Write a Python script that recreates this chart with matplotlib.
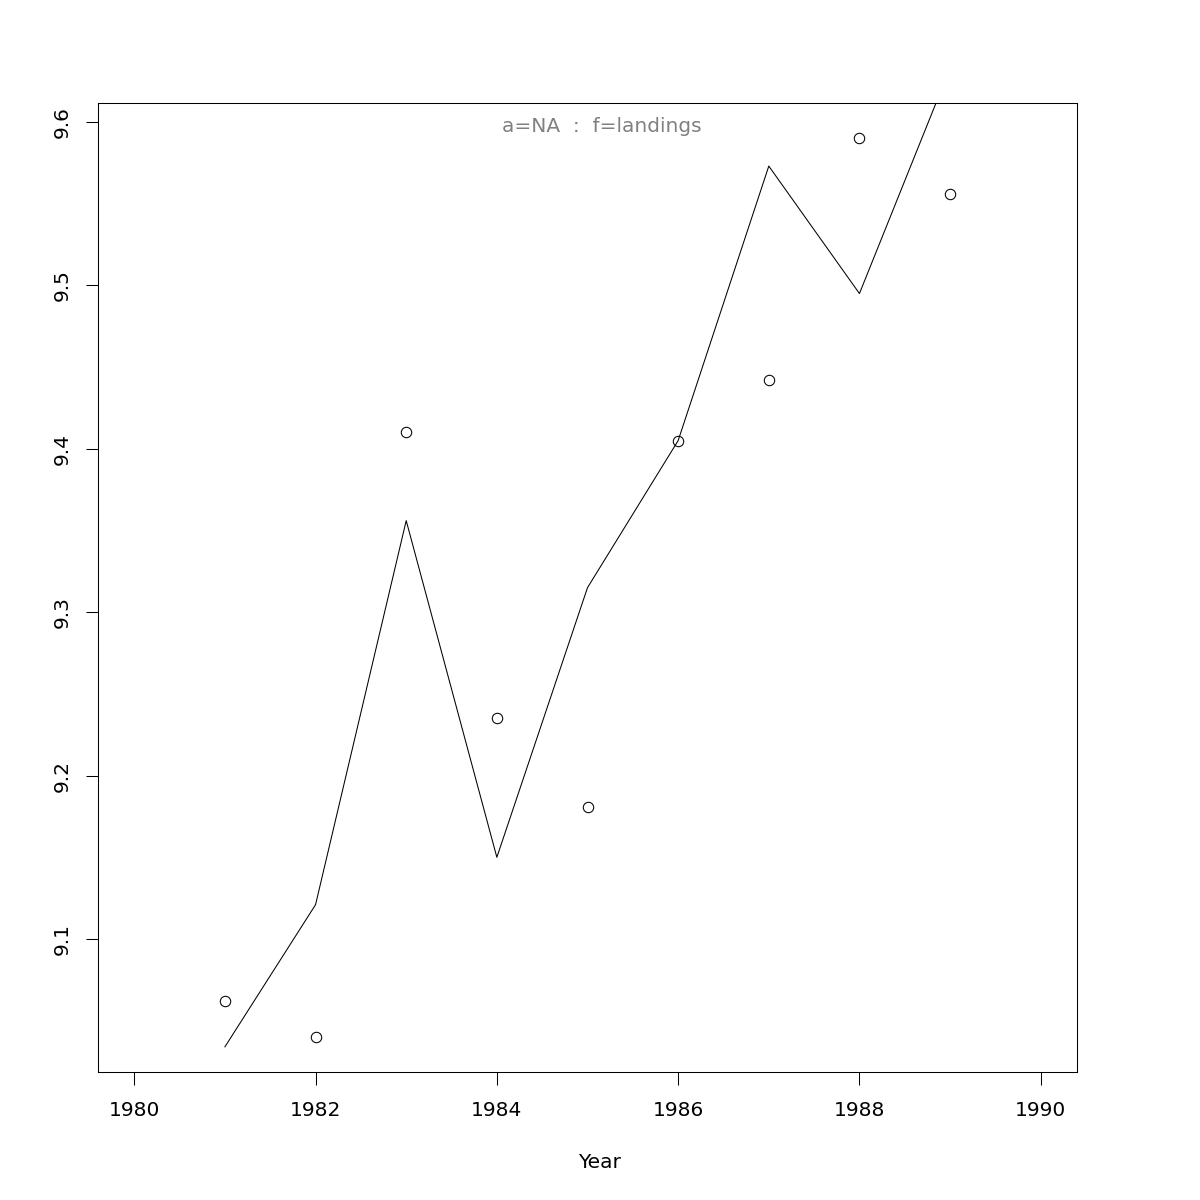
import matplotlib
matplotlib.use("Agg")
import matplotlib.pyplot as plt

years = [1981, 1982, 1983, 1984, 1985, 1986, 1987, 1988, 1989]
observed = [9.062, 9.040, 9.410, 9.235, 9.181, 9.405, 9.442, 9.590, 9.556]
fitted = [9.034, 9.121, 9.356, 9.150, 9.315, 9.405, 9.573, 9.495, 9.633]
xticks = [1980, 1982, 1984, 1986, 1988, 1990]
yticks = [9.1, 9.2, 9.3, 9.4, 9.5, 9.6]

fig = plt.figure(figsize=(12, 12), dpi=100)
ax = fig.add_axes([98/1200, 1 - 1072/1200, (1077-98)/1200, (1072-103)/1200])

ax.plot(years, fitted, color="black", lw=0.75)
ax.plot(years, observed, linestyle="none", marker="o", ms=7.5, mfc="none", mec="black", mew=0.75)

ax.set_xlim(1979.6, 1990.4)
ax.set_ylim(9.0186, 9.6116)
ax.set_xticks(xticks)
ax.set_xticklabels([str(x) for x in xticks])
ax.set_yticks(yticks)
ax.set_yticklabels([f"{y:.1f}" for y in yticks], rotation=90, va="center")
ax.tick_params(axis="both", length=9, width=0.75, labelsize=14.5, color="black")
ax.tick_params(axis="x", pad=12)
ax.tick_params(axis="y", pad=10)
for s in ax.spines.values():
    s.set_linewidth(0.75)
fig.text(0.5, 1 - 1162/1200, "Year", ha="center", va="center", fontsize=14.5)
fig.text(0.5015, 1 - 127/1200, "a=NA  :  f=landings", ha="center", va="center",
         fontsize=14.5, color="#808080")

fig.savefig("out.png", dpi=100)
